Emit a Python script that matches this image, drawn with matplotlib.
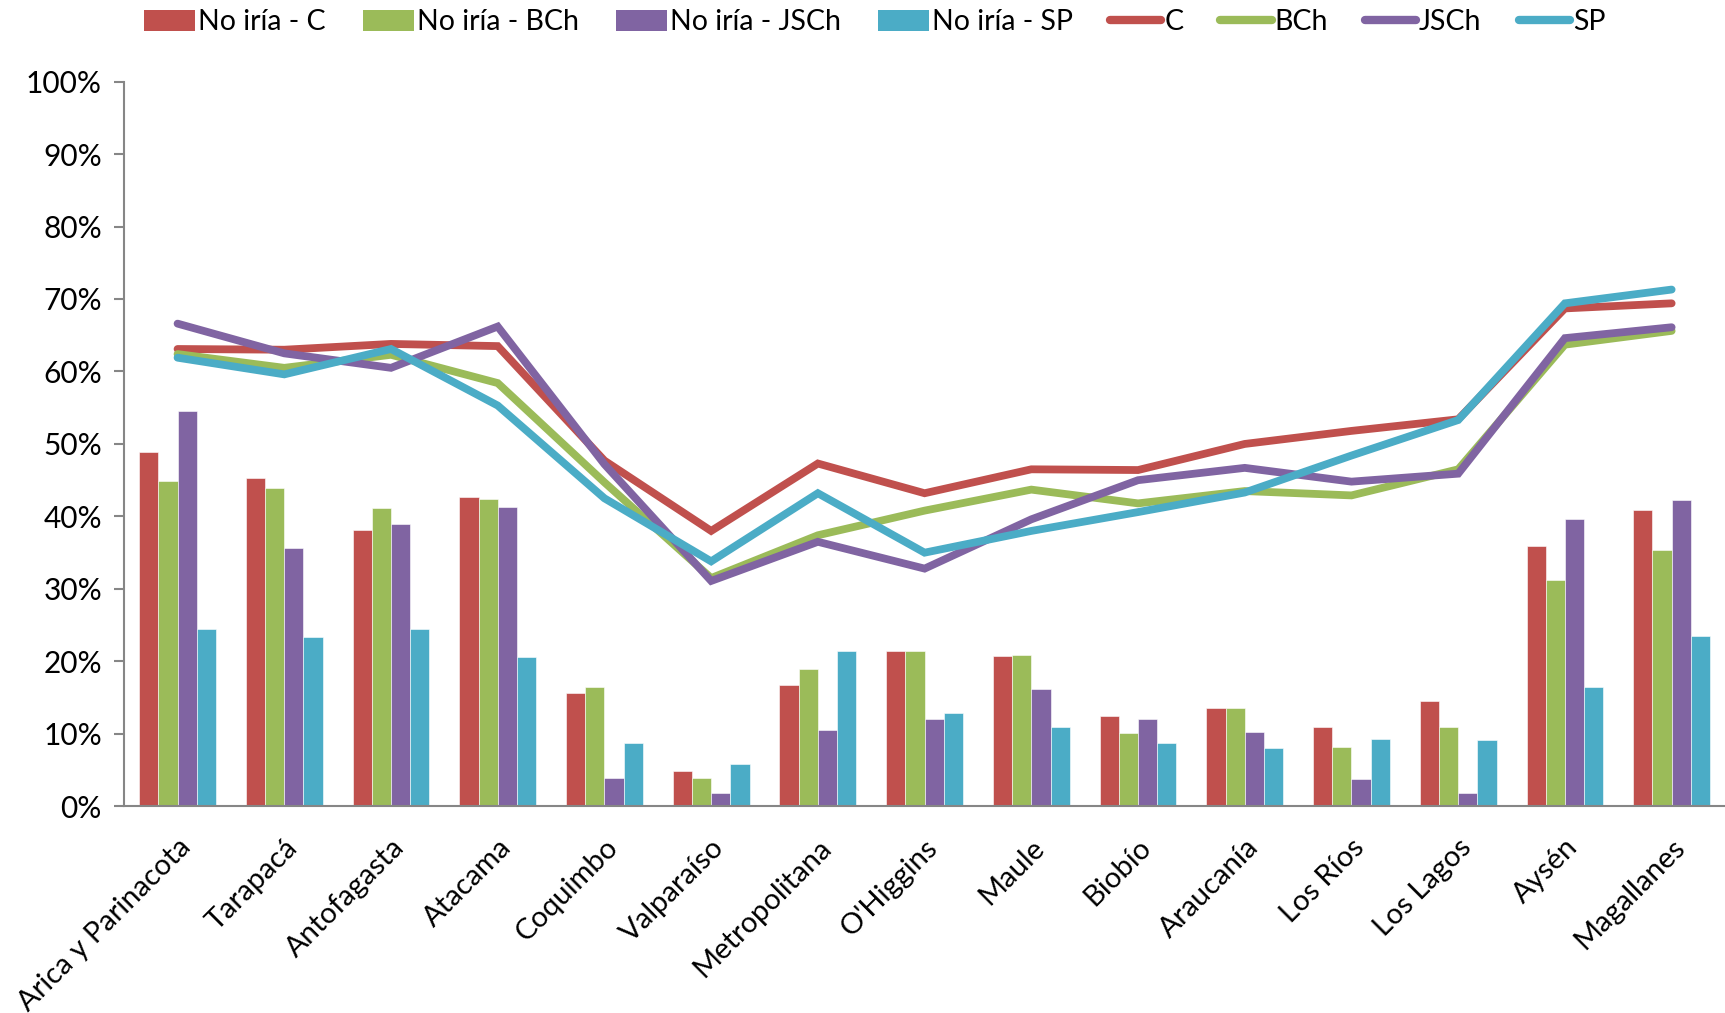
import numpy as np
import matplotlib as mpl
mpl.use("Agg")
import matplotlib.pyplot as plt
from matplotlib.lines import Line2D
from matplotlib.patches import Patch
from matplotlib.ticker import PercentFormatter

mpl.rcParams['font.family'] = ['Lato', 'DejaVu Sans']

# regions
regiones = ["Arica y Parinacota", "Tarapacá", "Antofagasta", "Atacama", "Coquimbo",
            "Valparaíso", "Metropolitana", "O'Higgins", "Maule", "Biobío",
            "Araucanía", "Los Ríos", "Los Lagos", "Aysén", "Magallanes"]

# bars: "No iría" shares (%)
no_c = [48.9, 45.3, 38.1, 42.7, 15.7, 4.9, 16.8, 21.5, 20.7, 12.4, 13.5, 11.0, 14.5, 35.9, 40.9]
no_bch = [44.9, 43.9, 41.1, 42.4, 16.4, 3.9, 19.0, 21.5, 20.9, 10.1, 13.5, 8.2, 11.0, 31.2, 35.4]
no_jsch = [54.5, 35.7, 38.9, 41.3, 3.9, 1.8, 10.5, 12.0, 16.2, 12.1, 10.3, 3.8, 1.8, 39.7, 42.3]
no_sp = [24.5, 23.3, 24.5, 20.6, 8.8, 5.8, 21.5, 12.9, 11.0, 8.8, 8.0, 9.3, 9.1, 16.5, 23.5]

# lines (%)
c = [63.1, 63.0, 63.8, 63.5, 47.7, 38.0, 47.3, 43.2, 46.5, 46.4, 50.0, 51.8, 53.4, 68.7, 69.4]
bch = [62.4, 60.5, 62.3, 58.4, 44.7, 31.5, 37.4, 40.8, 43.7, 41.8, 43.5, 42.9, 46.5, 63.7, 65.6]
jsch = [66.6, 62.5, 60.5, 66.2, 47.2, 31.1, 36.5, 32.8, 39.6, 45.0, 46.7, 44.8, 45.9, 64.6, 66.1]
sp = [61.9, 59.6, 63.1, 55.3, 42.5, 33.8, 43.2, 35.0, 38.0, 40.6, 43.3, 48.4, 53.3, 69.4, 71.3]

colors = ["#C0504D", "#9BBB59", "#8064A2", "#4BACC6"]
bar_labels = ["No iría - C", "No iría - BCh", "No iría - JSCh", "No iría - SP"]
line_labels = ["C", "BCh", "JSCh", "SP"]

fig = plt.figure(figsize=(17.25, 10.13), dpi=100)
ax = fig.add_axes([0.072, 0.204, 0.928, 0.7155])

x = np.arange(len(regiones))
w = 0.18
for i, (vals, col) in enumerate(zip([no_c, no_bch, no_jsch, no_sp], colors)):
    ax.bar(x + (i - 1.5) * w, vals, width=w, color=col, edgecolor="white", linewidth=0.4, zorder=2)

for vals, col in zip([c, bch, jsch, sp], colors):
    ax.plot(x, vals, color=col, lw=5.6, solid_capstyle="round", solid_joinstyle="miter", zorder=3)

ax.set_xlim(-0.5, len(regiones) - 0.5)
ax.set_ylim(0, 100)
ax.set_yticks(np.arange(0, 101, 10))
ax.yaxis.set_major_formatter(PercentFormatter(decimals=0))
ax.set_xticks(x)
ax.set_xticklabels(regiones, rotation=45, ha="right", rotation_mode="anchor")
ax.tick_params(axis="x", length=0, labelsize=21, pad=20)
ax.tick_params(axis="y", length=7, width=1.5, color="#868686", labelsize=21.5, pad=9, direction="out")
for s in ["top", "right"]:
    ax.spines[s].set_visible(False)
for s in ["left", "bottom"]:
    ax.spines[s].set_color("#868686")
    ax.spines[s].set_linewidth(1.5)

handles = [Patch(facecolor=col) for col in colors] + \
          [Line2D([0], [0], color=col, lw=6, solid_capstyle="round") for col in colors]
fig.legend(handles, bar_labels + line_labels, loc="upper center", bbox_to_anchor=(0.507, 1.016),
           ncol=8, frameon=False, fontsize=20.5, handlelength=1.8, handleheight=0.75,
           handletextpad=0.1, columnspacing=1.3)

plt.savefig("out.png", dpi=100)
plt.close("all")
